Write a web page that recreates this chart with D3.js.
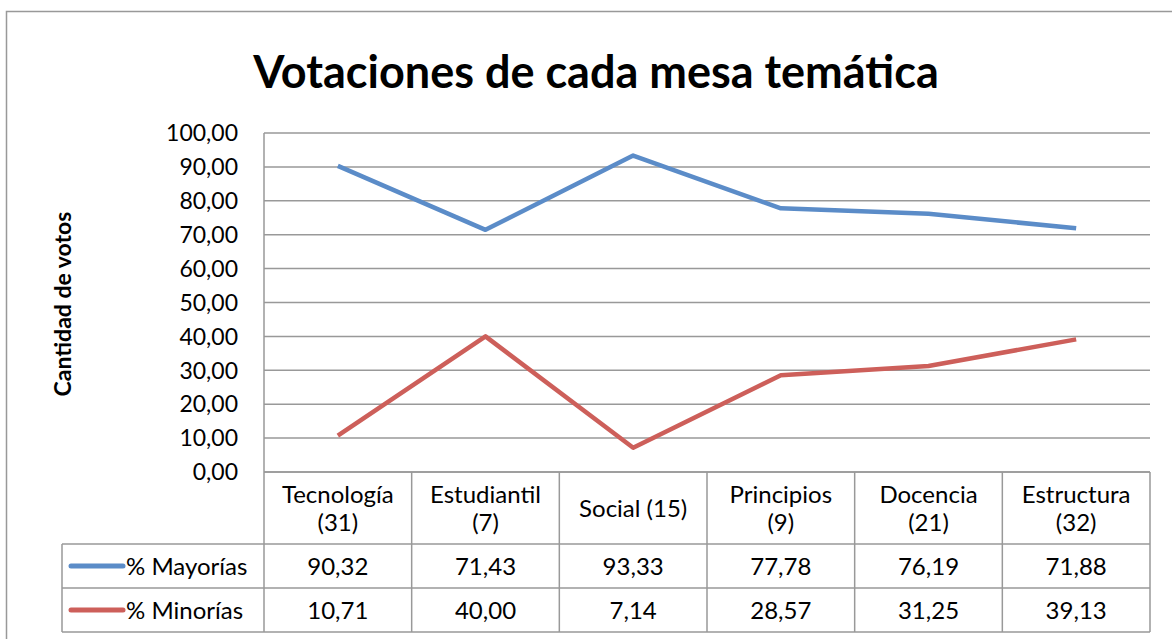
<!DOCTYPE html>
<html>
<head>
<meta charset="utf-8">
<script src="https://d3js.org/d3.v7.min.js"></script>
<style>
  body { margin: 0; background: #fff; }
  svg text { font-family: Lato, "Open Sans", sans-serif; fill: #000; }
</style>
</head>
<body>
<svg id="chart" width="1172" height="639"></svg>
<script>
// chart data
const categories = [["Tecnología", "(31)"], ["Estudiantil", "(7)"], ["Social (15)"], ["Principios", "(9)"], ["Docencia", "(21)"], ["Estructura", "(32)"]];
const seriesNames = ["% Mayorías", "% Minorías"];
const mayorias = [90.32, 71.43, 93.33, 77.78, 76.19, 71.88];
const minorias = [10.71, 40.00, 7.14, 28.57, 31.25, 39.13];
const yTicks = [0, 10, 20, 30, 40, 50, 60, 70, 80, 90, 100];
const colors = ["#5B8CC8", "#CD5F5A"];

const svg = d3.select("#chart");
const fmt = v => d3.format(".2f")(v).replace(".", ",");

const plotLeft = 264, plotRight = 1150, plotTop = 133, plotBottom = 472;
const legendLeft = 62;
const rowBottoms = [544, 588, 632];

// outer frame
svg.append("rect")
    .attr("x", 6.5).attr("y", 11.5)
    .attr("width", 1200).attr("height", 700)
    .attr("fill", "none").attr("stroke", "#999").attr("stroke-width", 1.5);

// title
svg.append("text")
    .attr("x", 596).attr("y", 88)
    .attr("text-anchor", "middle")
    .style("font-size", "45px").style("font-weight", "bold")
    .text("Votaciones de cada mesa temática");

const x = d3.scaleBand().domain(d3.range(categories.length)).range([plotLeft, plotRight]);
const y = d3.scaleLinear().domain([0, 100]).range([plotBottom, plotTop]);

// gridlines
svg.append("g").selectAll("line")
    .data(yTicks).enter().append("line")
    .attr("x1", plotLeft).attr("x2", plotRight)
    .attr("y1", d => y(d)).attr("y2", d => y(d))
    .attr("stroke", "#999").attr("stroke-width", 1.5);

svg.append("line")
    .attr("x1", plotLeft).attr("x2", plotLeft)
    .attr("y1", plotTop).attr("y2", plotBottom)
    .attr("stroke", "#999").attr("stroke-width", 1.5);

// y tick labels
svg.append("g").selectAll("text")
    .data(yTicks).enter().append("text")
    .attr("x", 238).attr("y", d => y(d))
    .attr("dy", "0.36em")
    .attr("text-anchor", "end")
    .style("font-size", "23px")
    .text(d => fmt(d));

// y axis title
svg.append("text")
    .attr("transform", "translate(71,304) rotate(-90)")
    .attr("text-anchor", "middle")
    .style("font-size", "23px").style("font-weight", "bold")
    .text("Cantidad de votos");

// lines
const line = d3.line()
    .x((d, i) => x(i) + x.bandwidth() / 2)
    .y(d => y(d));

[mayorias, minorias].forEach((s, k) => {
    svg.append("path")
        .datum(s)
        .attr("d", line)
        .attr("fill", "none")
        .attr("stroke", colors[k])
        .attr("stroke-width", 4.5)
        .attr("stroke-linejoin", "round");
});

// data table
const tbl = svg.append("g");
const gridStroke = "#999";

// horizontal lines of table
tbl.append("line").attr("x1", plotLeft).attr("x2", plotRight).attr("y1", plotBottom).attr("y2", plotBottom)
    .attr("stroke", gridStroke).attr("stroke-width", 1.5);
rowBottoms.forEach(yy => {
    tbl.append("line").attr("x1", legendLeft).attr("x2", plotRight).attr("y1", yy).attr("y2", yy)
        .attr("stroke", gridStroke).attr("stroke-width", 1.5);
});
// vertical lines
d3.range(categories.length + 1).forEach(i => {
    const xx = i < categories.length ? x(i) : plotRight;
    tbl.append("line").attr("x1", xx).attr("x2", xx)
        .attr("y1", plotBottom).attr("y2", rowBottoms[2])
        .attr("stroke", gridStroke).attr("stroke-width", 1.5);
});
tbl.append("line").attr("x1", legendLeft).attr("x2", legendLeft)
    .attr("y1", rowBottoms[0]).attr("y2", rowBottoms[2])
    .attr("stroke", gridStroke).attr("stroke-width", 1.5);

// category labels
categories.forEach((c, i) => {
    const cx = x(i) + x.bandwidth() / 2;
    const mid = (plotBottom + rowBottoms[0]) / 2;
    const t = tbl.append("text")
        .attr("x", cx)
        .attr("text-anchor", "middle")
        .style("font-size", "24px");
    c.forEach((part, j) => {
        t.append("tspan")
            .attr("x", cx)
            .attr("y", mid + (j - (c.length - 1) / 2) * 28)
            .attr("dy", "0.36em")
            .text(part);
    });
});

// series rows
[mayorias, minorias].forEach((s, k) => {
    const rowMid = (rowBottoms[k] + rowBottoms[k + 1]) / 2;
    tbl.append("line")
        .attr("x1", 71).attr("x2", 123)
        .attr("y1", rowMid).attr("y2", rowMid)
        .attr("stroke", colors[k]).attr("stroke-width", 5)
        .attr("stroke-linecap", "round");
    tbl.append("text")
        .attr("x", 126).attr("y", rowMid).attr("dy", "0.36em")
        .style("font-size", "24px")
        .text(seriesNames[k]);
    s.forEach((v, i) => {
        tbl.append("text")
            .attr("x", x(i) + x.bandwidth() / 2)
            .attr("y", rowMid).attr("dy", "0.36em")
            .attr("text-anchor", "middle")
            .style("font-size", "24px")
            .text(fmt(v));
    });
});
</script>
</body>
</html>
